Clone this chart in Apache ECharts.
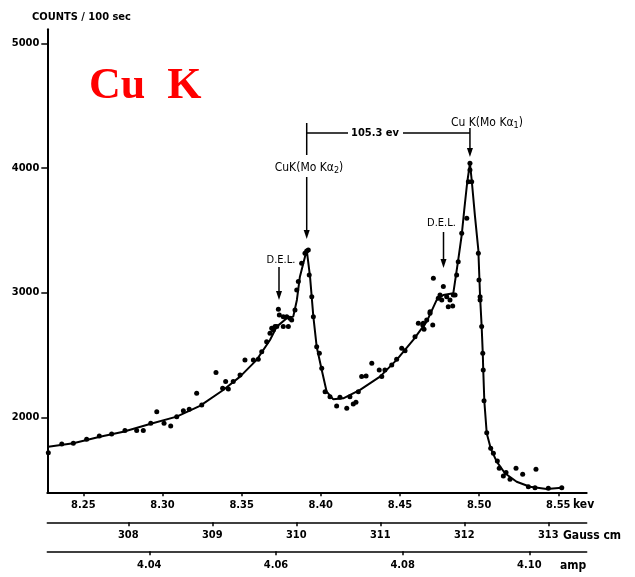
<!DOCTYPE html>
<html><head><meta charset="utf-8">
<script src="https://cdn.jsdelivr.net/npm/echarts@6/dist/echarts.min.js"></script>
<style>html,body{margin:0;padding:0;background:#fff}#c{width:635px;height:577px}</style>
</head><body><div id="c"></div>
<script>
// ---- data ----
const countTicks = [2000, 3000, 4000, 5000];
const kevTicks = [8.25, 8.30, 8.35, 8.40, 8.45, 8.50, 8.55];
const gaussTicks = [308, 309, 310, 311, 312, 313];
const ampTicks = [4.04, 4.06, 4.08, 4.10];

// fitted curve (keV, counts / 100 sec)
const curveKev = [8.2279,8.2437,8.2605,8.2753,8.2921,8.3090,8.3237,8.3384,8.3490,8.3595,8.3679,8.3722,8.3785,8.3826,8.3849,8.3868,8.3911,8.3932,8.3953,8.3974,8.4006,8.4037,8.4079,8.4142,8.4248,8.4374,8.4479,8.4584,8.4669,8.4732,8.4774,8.4837,8.4868,8.4890,8.4906,8.4924,8.4942,8.4953,8.4974,8.4995,8.5006,8.5016,8.5023,8.5026,8.5033,8.5048,8.5073,8.5111,8.5163,8.5237,8.5321,8.5427,8.5522];
const curveCounts = [1764,1791,1844,1884,1946,2005,2091,2219,2326,2460,2620,2727,2794,2807,2941,3128,3342,3128,2807,2566,2379,2205,2144,2152,2219,2326,2460,2620,2767,2941,2981,2995,3262,3462,3663,3877,4037,3903,3609,3342,2967,2727,2513,2379,2125,1872,1751,1644,1551,1483,1443,1425,1435];

// measured points
const dotKev = [8.2279,8.2364,8.2437,8.2521,8.2601,8.2679,8.2763,8.2837,8.2879,8.2926,8.2964,8.3010,8.3052,8.3090,8.3132,8.3169,8.3216,8.3248,8.3338,8.3380,8.3399,8.3416,8.3447,8.3490,8.3521,8.3574,8.3605,8.3627,8.3658,8.3679,8.3690,8.3700,8.3711,8.3722,8.3732,8.3738,8.3763,8.3763,8.3785,8.3795,8.3805,8.3816,8.3837,8.3848,8.3858,8.3879,8.3900,8.3911,8.3921,8.3927,8.3943,8.3953,8.3974,8.3991,8.4006,8.4027,8.4058,8.4100,8.4121,8.4164,8.4184,8.4205,8.4222,8.4237,8.4258,8.4286,8.4322,8.4369,8.4385,8.4405,8.4448,8.4479,8.4511,8.4532,8.4595,8.4616,8.4644,8.4647,8.4652,8.4669,8.4690,8.4690,8.4707,8.4711,8.4742,8.4753,8.4764,8.4774,8.4795,8.4805,8.4816,8.4833,8.4837,8.4848,8.4858,8.4868,8.4890,8.4922,8.4932,8.4942,8.4942,8.4953,8.4995,8.4999,8.5006,8.5006,8.5016,8.5023,8.5026,8.5031,8.5048,8.5073,8.5090,8.5115,8.5127,8.5153,8.5170,8.5195,8.5233,8.5275,8.5311,8.5353,8.5359,8.5437,8.5522];
const dotCounts = [1716,1786,1791,1824,1850,1866,1893,1893,1893,1952,2045,1952,1930,2005,2053,2064,2193,2099,2358,2233,2286,2227,2286,2339,2460,2460,2465,2526,2606,2674,2714,2700,2727,2727,2866,2821,2727,2807,2807,2727,2794,2780,2861,3021,3088,3235,3315,3334,3342,3141,2967,2807,2566,2513,2393,2205,2165,2091,2160,2072,2165,2107,2120,2205,2326,2331,2433,2379,2326,2379,2420,2465,2553,2534,2646,2754,2740,2754,2706,2780,2847,2834,2740,3115,2955,2981,2941,3048,2967,2887,2941,2893,2981,2981,3141,3248,3476,3596,3890,4037,3984,3890,3315,3101,2967,2941,2727,2513,2379,2133,1876,1751,1711,1649,1591,1529,1556,1503,1591,1543,1443,1435,1583,1431,1435];

// annotated features (keV)
const peakKev = [8.3911, 8.4942];   // CuK(MoKα2), CuK(MoKα1)
const delKev = [8.3736, 8.4775];    // D.E.L. markers
const separationText = '105.3 ev';

// ---- chart ----
const FONT = '"DejaVu Sans Condensed","DejaVu Sans",sans-serif';
const chart = echarts.init(document.getElementById('c'), null, {renderer: 'canvas'});
const lbl = {color: '#000', fontSize: 11, fontWeight: 'bold', fontFamily: FONT};

function xAxisCfg(min, max, ticks, offset, fmt, lw, margin) {
  return {
    type: 'value', position: 'bottom', min: min, max: max, offset: offset,
    axisLine: {show: true, onZero: false, lineStyle: {color: '#000', width: lw}},
    axisTick: {show: true, length: 4, inside: false, customValues: ticks, lineStyle: {color: '#000', width: 1.5}},
    axisLabel: Object.assign({customValues: ticks, margin: margin, formatter: fmt}, lbl),
    splitLine: {show: false}
  };
}

chart.setOption({
  animation: false,
  backgroundColor: '#fff',
  grid: {left: 47.3, right: 48.3, top: 29.3, bottom: 84.7, containLabel: false, outerBoundsMode: 'none'},
  xAxis: [
    xAxisCfg(8.22726, 8.56794, kevTicks, 0, v => v.toFixed(2), 2, 7),
    xAxisCfg(307.036, 313.457, gaussTicks, 30, v => String(Math.round(v)), 1.5, 7),
    xAxisCfg(4.0239, 4.10906, ampTicks, 59, v => v.toFixed(2), 1.5, 8)
  ],
  yAxis: {
    type: 'value', min: 1398, max: 5112,
    axisLine: {show: true, onZero: false, lineStyle: {color: '#000', width: 2}},
    axisTick: {show: true, length: 6, customValues: countTicks, lineStyle: {color: '#000', width: 1.5}},
    axisLabel: Object.assign({customValues: countTicks, margin: 8, formatter: v => String(Math.round(v))}, lbl),
    splitLine: {show: false}
  },
  series: [
    {
      type: 'line', xAxisIndex: 0, showSymbol: false, symbol: 'none',
      lineStyle: {color: '#000', width: 2}, z: 2,
      data: curveKev.map((k, i) => [k, curveCounts[i]])
    },
    {
      type: 'scatter', xAxisIndex: 0, symbolSize: 5,
      itemStyle: {color: '#000', opacity: 1}, z: 3,
      data: dotKev.map((k, i) => [k, dotCounts[i]])
    }
  ]
});

const px = v => chart.convertToPixel({xAxisIndex: 0}, v);
const x2 = px(peakKev[0]), x1 = px(peakKev[1]);
const d1 = px(delKev[0]), d2 = px(delKev[1]);
const ls = {stroke: '#000', lineWidth: 1.5};
const t = (text, x, y, opts) => ({type: 'text', style: Object.assign({text: text, x: x, y: y, fill: '#000', font: '11px ' + FONT, align: 'left', verticalAlign: 'middle'}, opts || {})});
const line = (xa, ya, xb, yb) => ({type: 'line', shape: {x1: xa, y1: ya, x2: xb, y2: yb}, style: ls});
const head = (x, tip) => ({type: 'polygon', shape: {points: [[x - 3, tip - 9], [x + 3, tip - 9], [x, tip]]}, style: {fill: '#000'}});
const sub = {rich: {s: {fontSize: 9, fontFamily: FONT, verticalAlign: 'bottom', padding: [6, 0, 0, 0]}, n: {fontSize: 12, fontFamily: FONT}}};

chart.setOption({
  graphic: [
    t('COUNTS / 100 sec', 32, 17, {font: 'bold 11px ' + FONT}),
    t('Cu  K', 89, 87, {font: 'bold 44px "Liberation Serif","Times New Roman",serif', fill: '#ff0000'}),
    // Kα2 marker
    line(x2, 123, x2, 155),
    {type: 'text', style: Object.assign({text: '{n|CuK(Mo Kα}{s|2}{n|)}', x: x2 - 32, y: 168, align: 'left', verticalAlign: 'middle', fill: '#000'}, sub)},
    line(x2, 177, x2, 232),
    head(x2, 239),
    // separation dimension
    line(x2, 133, 348, 133),
    line(403, 133, x1, 133),
    t(separationText, 375, 133, {font: 'bold 11px ' + FONT, align: 'center'}),
    // Kα1 marker
    {type: 'text', style: Object.assign({text: '{n|Cu K(Mo Kα}{s|1}{n|)}', x: x1 - 19, y: 123, align: 'left', verticalAlign: 'middle', fill: '#000'}, sub)},
    line(x1, 128, x1, 150),
    head(x1, 157),
    // D.E.L. markers
    t('D.E.L.', d1 + 2, 260, {font: '11px ' + FONT, align: 'center'}),
    line(d1, 267, d1, 294),
    head(d1, 300),
    t('D.E.L.', d2 - 2, 223, {font: '11px ' + FONT, align: 'center'}),
    line(d2, 232, d2, 262),
    head(d2, 268),
    // axis units
    t('kev', 573, 505, {font: 'bold 12px ' + FONT}),
    t('Gauss cm', 563, 536, {font: 'bold 12px ' + FONT}),
    t('amp', 560, 566, {font: 'bold 12px ' + FONT})
  ]
});
</script>
</body></html>
